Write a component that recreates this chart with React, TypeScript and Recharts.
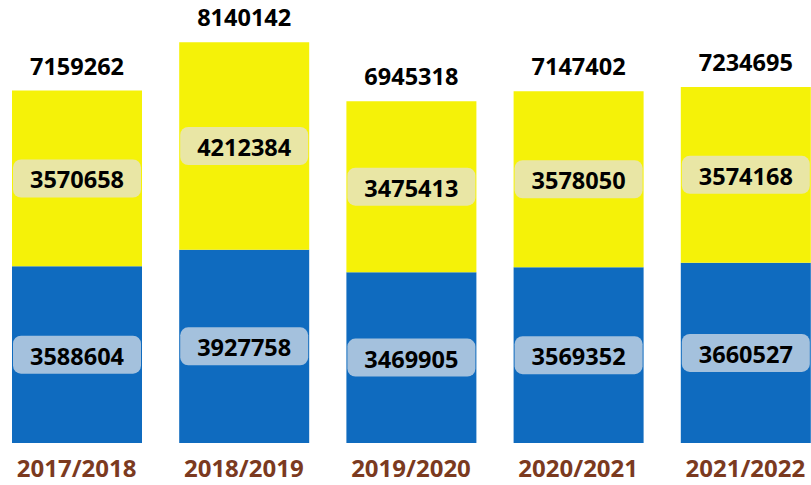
import React from "react";
import { Bar, BarChart, LabelList, XAxis, YAxis } from "recharts";

const years = ["2017/2018", "2018/2019", "2019/2020", "2020/2021", "2021/2022"];
const lowerValues = [3588604, 3927758, 3469905, 3569352, 3660527];
const upperValues = [3570658, 4212384, 3475413, 3578050, 3574168];

const data = years.map((year, i) => ({
  year,
  lower: lowerValues[i],
  upper: upperValues[i],
  total: lowerValues[i] + upperValues[i],
}));

const FONT = "'Open Sans', 'Noto Sans', sans-serif";

const boxLabel = (boxFill: string) => (props: any) => {
  const { x, y, width, height, value } = props;
  const cx = x + width / 2;
  const cy = y + height / 2;
  return (
    <g>
      <rect x={x + 1} y={cy - 19} width={width - 2} height={38} rx={8} fill={boxFill} />
      <text
        x={cx}
        y={cy + 1}
        textAnchor="middle"
        dominantBaseline="central"
        fontFamily={FONT}
        fontWeight="bold"
        fontSize={23.5}
        fill="#000"
      >
        {value}
      </text>
    </g>
  );
};

const TotalLabel = (props: any) => {
  const { x, y, width, index } = props;
  return (
    <text
      x={x + width / 2}
      y={y - 25}
      textAnchor="middle"
      dominantBaseline="central"
      fontFamily={FONT}
      fontWeight="bold"
      fontSize={23.5}
      fill="#000"
    >
      {data[index].total}
    </text>
  );
};

const YearTick = (props: any) => {
  const { x, y, payload } = props;
  return (
    <text
      x={x}
      y={y + 16}
      textAnchor="middle"
      dominantBaseline="central"
      fontFamily={FONT}
      fontWeight="bold"
      fontSize={24}
      fill="#7B3A1F"
    >
      {payload.value}
    </text>
  );
};

export default function App() {
  return (
    <div
      style={{
        position: "fixed",
        left: 0,
        top: 0,
        width: 811,
        height: 485,
        overflow: "hidden",
        background: "#fff",
      }}
    >
      <div style={{ position: "absolute", left: -7.5, top: 0 }}>
        <BarChart
          width={836}
          height={485}
          data={data}
          margin={{ top: 0, right: 0, bottom: 0, left: 0 }}
          barSize={130}
        >
          <XAxis
            dataKey="year"
            axisLine={false}
            tickLine={false}
            height={42}
            tick={<YearTick />}
            interval={0}
          />
          <YAxis hide domain={[0, 9000000]} />
          <Bar dataKey="lower" stackId="a" fill="#0F6BBF" isAnimationActive={false}>
            <LabelList dataKey="lower" content={boxLabel("#A4C1DD")} />
          </Bar>
          <Bar dataKey="upper" stackId="a" fill="#F5F208" isAnimationActive={false}>
            <LabelList dataKey="upper" content={boxLabel("#E9E6A5")} />
            <LabelList dataKey="total" content={<TotalLabel />} />
          </Bar>
        </BarChart>
      </div>
    </div>
  );
}
